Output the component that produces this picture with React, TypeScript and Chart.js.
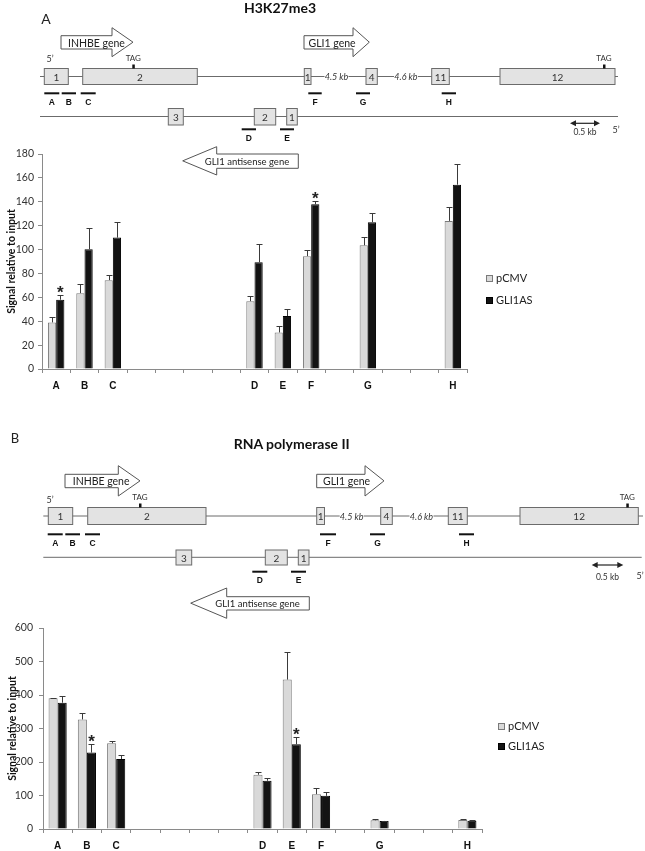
import React, { useEffect, useRef } from 'react';
import { Chart, registerables } from 'chart.js';

Chart.register(...registerables);

// ---------------- data ----------------
const categories = ['A', 'B', 'C', '', '', '', '', 'D', 'E', 'F', '', 'G', '', '', 'H'];
const seriesLabels = ['pCMV', 'GLI1AS'];
const N = null;

const h3k27me3PCMV = [39, 63.5, 74.4, N, N, N, N, 56.8, 30.6, 94.5, N, 103.6, N, N, 124];
const h3k27me3PCMVErr = [4.7, 7.5, 4.5, N, N, N, N, 4.5, 5, 5, N, 6.7, N, N, 11.5];
const h3k27me3GLI1AS = [58, 100.3, 110, N, N, N, N, 89.4, 44.3, 137.9, N, 122.9, N, N, 154.3];
const h3k27me3GLI1ASErr = [4, 17.6, 12.9, N, N, N, N, 15, 6, 2.5, N, 8, N, N, 17];
const h3k27me3Significant = ['A', 'F'];
const h3k27me3YTicks = [0, 20, 40, 60, 80, 100, 120, 140, 160, 180];

const pol2PCMV = [390, 327, 256, N, N, N, N, 162, 446, 104, N, 26, N, N, 27];
const pol2PCMVErr = [2, 18, 8, N, N, N, N, 9, 82, 18, N, 4, N, N, 1.5];
const pol2GLI1AS = [377, 228, 209, N, N, N, N, 144, 253, 99, N, 24, N, N, 25];
const pol2GLI1ASErr = [20, 26, 11, N, N, N, N, 8, 21, 11, N, 1, N, N, 2];
const pol2Significant = ['B', 'E'];
const pol2YTicks = [0, 100, 200, 300, 400, 500, 600];

const yTitle = 'Signal relative to input';

// ---------------- styles ----------------
const fills = ['#d9d9d9', '#131313'];
const borders = ['#7a7a7a', '#000000'];
const axisColor = '#8a8a8a';
const CAL = 'Lato, "Open Sans", sans-serif';
const ARIAL = '"Liberation Sans", Arial, sans-serif';

// ---------------- plugins ----------------
const errorBarPlugin = {
  id: 'errorBars',
  afterDatasetsDraw(chart: any) {
    const { ctx } = chart;
    const yScale = chart.scales.y;
    chart.data.datasets.forEach((ds: any, i: number) => {
      const meta = chart.getDatasetMeta(i);
      meta.data.forEach((bar: any, j: number) => {
        const v = ds.data[j];
        const e = ds.errors ? ds.errors[j] : null;
        if (v == null || e == null) return;
        const x = Math.round(bar.x) + 0.5;
        const yTop = Math.round(yScale.getPixelForValue(v + e)) + 0.5;
        ctx.save();
        ctx.strokeStyle = '#3a3a3a';
        ctx.lineWidth = 1;
        ctx.beginPath();
        ctx.moveTo(x, bar.y);
        ctx.lineTo(x, yTop);
        ctx.moveTo(x - 3, yTop);
        ctx.lineTo(x + 3, yTop);
        ctx.stroke();
        if (ds.significant && ds.significant[j]) {
          ctx.fillStyle = '#222';
          ctx.font = 'bold 17px ' + ARIAL;
          ctx.textAlign = 'center';
          ctx.textBaseline = 'alphabetic';
          ctx.fillText('*', bar.x, yTop + 2);
        }
        ctx.restore();
      });
    });
  },
};

const sideLegendPlugin = {
  id: 'sideLegend',
  afterDraw(chart: any, _args: any, opts: any) {
    const { ctx } = chart;
    chart.data.datasets.forEach((ds: any, i: number) => {
      const x = opts.x;
      const y = opts.y + i * opts.gap;
      ctx.save();
      ctx.fillStyle = ds.backgroundColor;
      ctx.fillRect(x, Math.round(y - 3.5), 7, 7);
      ctx.strokeStyle = ds.borderColor;
      ctx.lineWidth = 1;
      ctx.strokeRect(x + 0.5, Math.round(y - 3.5) + 0.5, 6, 6);
      ctx.fillStyle = '#222';
      ctx.font = '11px ' + CAL;
      ctx.textAlign = 'left';
      ctx.textBaseline = 'middle';
      ctx.fillText(ds.label, x + 10, y + 0.5);
      ctx.restore();
    });
  },
};

type PanelProps = {
  top: number;
  height: number;
  padTop: number;
  padRight: number;
  yWidth: number;
  xHeight: number;
  yTicks: number[];
  pcmv: (number | null)[];
  pcmvErr: (number | null)[];
  gli: (number | null)[];
  gliErr: (number | null)[];
  significant: string[];
  catPct: number;
  legend: { x: number; y: number; gap: number };
  titlePad: number;
  tickPad: number;
};

function BarPanel(p: PanelProps) {
  const ref = useRef<HTMLCanvasElement>(null);
  useEffect(() => {
    const sigFlags = categories.map((c) => c !== '' && p.significant.includes(c));
    const chart = new Chart(ref.current as HTMLCanvasElement, {
      type: 'bar',
      data: {
        labels: categories,
        datasets: [
          {
            label: seriesLabels[0],
            data: p.pcmv,
            backgroundColor: fills[0],
            borderColor: borders[0],
            borderWidth: 1,
            errors: p.pcmvErr,
          } as any,
          {
            label: seriesLabels[1],
            data: p.gli,
            backgroundColor: fills[1],
            borderColor: borders[1],
            borderWidth: 1,
            errors: p.gliErr,
            significant: sigFlags,
          } as any,
        ],
      },
      options: {
        responsive: false,
        animation: false,
        events: [],
        layout: { padding: { left: 0, right: p.padRight, top: p.padTop, bottom: 0 } },
        datasets: { bar: { categoryPercentage: p.catPct, barPercentage: 1 } },
        plugins: {
          legend: { display: false },
          tooltip: { enabled: false },
          sideLegend: p.legend,
        } as any,
        scales: {
          x: {
            grid: { offset: true, drawOnChartArea: false, drawTicks: true, tickLength: 4, color: axisColor },
            border: { color: axisColor },
            ticks: {
              autoSkip: false,
              maxRotation: 0,
              padding: 7,
              color: '#111',
              font: { family: ARIAL, weight: 'bold', size: 10 },
            },
            afterFit: (s: any) => {
              s.height = p.xHeight;
            },
          },
          y: {
            min: p.yTicks[0],
            max: p.yTicks[p.yTicks.length - 1],
            grid: { drawOnChartArea: false, drawTicks: true, tickLength: 4, color: axisColor },
            border: { color: axisColor },
            ticks: {
              stepSize: p.yTicks[1] - p.yTicks[0],
              padding: p.tickPad,
              color: '#333',
              font: { family: CAL, size: 10.5 },
            },
            title: {
              display: true,
              text: yTitle,
              color: '#111',
              font: { family: CAL, weight: 'bold', size: 10.5 },
              padding: { top: p.titlePad, bottom: 0 },
            },
            afterFit: (s: any) => {
              s.width = p.yWidth;
            },
          },
        } as any,
      },
      plugins: [errorBarPlugin, sideLegendPlugin],
    } as any);
    return () => chart.destroy();
  }, []);
  return (
    <canvas
      ref={ref}
      width={645}
      height={p.height}
      style={{ position: 'absolute', left: 0, top: p.top, width: 645, height: p.height }}
    />
  );
}

// ---------------- gene diagram ----------------
type Exon = [number, number, string];
type Primer = [number, number, string];
type DiagramCfg = {
  letter: [number, number, string, number];
  title: [number, number, string];
  arrows: { x0: number; xh: number; tip: number; b0: number; b1: number; h0: number; h1: number; text: string; tx: number; dir: 'r' | 'l' }[];
  five: [number, number][];
  lineY: number;
  lineX: [number, number];
  exonY: [number, number];
  exons: Exon[];
  kb: [number, string][];
  tags: number[];
  tagY: number;
  primerY: number;
  primerLabelY: number;
  primers: Primer[];
  asLineY: number;
  asLineX: [number, number];
  asExonY: [number, number];
  asExons: Exon[];
  asPrimerY: number;
  asPrimerLabelY: number;
  asPrimers: Primer[];
  scaleBar: [number, number, number, number];
};

const lineCol = '#6b6b6b';

function Diagram({ c }: { c: DiagramCfg }) {
  const els: any[] = [];
  let k = 0;
  const key = () => 'k' + k++;
  els.push(
    <text key={key()} x={c.letter[0]} y={c.letter[1]} fontFamily={CAL} fontSize={c.letter[3]} fill="#222" textAnchor="middle" dominantBaseline="central">
      {c.letter[2]}
    </text>
  );
  els.push(
    <text key={key()} x={c.title[0]} y={c.title[1]} fontFamily={CAL} fontWeight="bold" fontSize={14} fill="#111" textAnchor="middle" dominantBaseline="central">
      {c.title[2]}
    </text>
  );
  c.arrows.forEach((a) => {
    const mid = (a.h0 + a.h1) / 2;
    let pts = '';
    if (a.dir === 'r') {
      pts = `${a.x0},${a.b0} ${a.xh},${a.b0} ${a.xh},${a.h0} ${a.tip},${mid} ${a.xh},${a.h1} ${a.xh},${a.b1} ${a.x0},${a.b1}`;
    } else {
      pts = `${a.tip},${mid} ${a.xh},${a.h0} ${a.xh},${a.b0} ${a.x0},${a.b0} ${a.x0},${a.b1} ${a.xh},${a.b1} ${a.xh},${a.h1}`;
    }
    els.push(<polygon key={key()} points={pts} fill="#fff" stroke="#555" strokeWidth={1} />);
    els.push(
      <text key={key()} x={a.tx} y={mid + 0.5} fontFamily={CAL} fontSize={a.dir === 'l' ? 9.5 : 10.5} fill="#222" textAnchor={a.dir === 'l' ? 'middle' : 'start'} dominantBaseline="central">
        {a.text}
      </text>
    );
  });
  c.five.forEach(([x, y]) => {
    els.push(
      <text key={key()} x={x} y={y} fontFamily={CAL} fontSize={9} fill="#333" textAnchor="middle" dominantBaseline="central">
        5’
      </text>
    );
  });
  // main line
  els.push(<line key={key()} x1={c.lineX[0]} x2={c.lineX[1]} y1={c.lineY} y2={c.lineY} stroke={lineCol} strokeWidth={1} />);
  c.kb.forEach(([x, t]) => {
    els.push(<rect key={key()} x={x - 12} y={c.lineY - 5} width={24} height={10} fill="#fff" />);
    els.push(
      <text key={key()} x={x} y={c.lineY} fontFamily={CAL} fontStyle="italic" fontSize={9} fill="#333" textAnchor="middle" dominantBaseline="central">
        {t}
      </text>
    );
  });
  c.exons.forEach(([x0, x1, l]) => {
    els.push(<rect key={key()} x={x0} y={c.exonY[0]} width={x1 - x0} height={c.exonY[1] - c.exonY[0]} fill="#e3e3e3" stroke="#6b6b6b" strokeWidth={1} />);
    els.push(
      <text key={key()} x={(x0 + x1) / 2} y={(c.exonY[0] + c.exonY[1]) / 2} fontFamily={CAL} fontSize={10} fill="#333" textAnchor="middle" dominantBaseline="central">
        {l}
      </text>
    );
  });
  c.tags.forEach((x) => {
    els.push(<rect key={key()} x={x - 1} y={c.exonY[0] - 4} width={2.5} height={4} fill="#111" />);
    els.push(
      <text key={key()} x={x} y={c.tagY} fontFamily={CAL} fontSize={8} fill="#333" textAnchor="middle" dominantBaseline="central">
        TAG
      </text>
    );
  });
  const drawPrimers = (list: Primer[], y: number, ly: number) => {
    list.forEach(([x0, x1, l]) => {
      els.push(<rect key={key()} x={x0} y={y - 1} width={x1 - x0} height={2} fill="#111" />);
      els.push(
        <text key={key()} x={(x0 + x1) / 2} y={ly} fontFamily={ARIAL} fontWeight="bold" fontSize={8.5} fill="#111" textAnchor="middle" dominantBaseline="central">
          {l}
        </text>
      );
    });
  };
  drawPrimers(c.primers, c.primerY, c.primerLabelY);
  // antisense line
  els.push(<line key={key()} x1={c.asLineX[0]} x2={c.asLineX[1]} y1={c.asLineY} y2={c.asLineY} stroke={lineCol} strokeWidth={1} />);
  c.asExons.forEach(([x0, x1, l]) => {
    els.push(<rect key={key()} x={x0} y={c.asExonY[0]} width={x1 - x0} height={c.asExonY[1] - c.asExonY[0]} fill="#e3e3e3" stroke="#6b6b6b" strokeWidth={1} />);
    els.push(
      <text key={key()} x={(x0 + x1) / 2} y={(c.asExonY[0] + c.asExonY[1]) / 2} fontFamily={CAL} fontSize={10} fill="#333" textAnchor="middle" dominantBaseline="central">
        {l}
      </text>
    );
  });
  drawPrimers(c.asPrimers, c.asPrimerY, c.asPrimerLabelY);
  // scale bar
  const [sx0, sx1, sy, ty] = c.scaleBar;
  els.push(<line key={key()} x1={sx0 + 4} x2={sx1 - 4} y1={sy} y2={sy} stroke="#222" strokeWidth={1.2} />);
  els.push(<polygon key={key()} points={`${sx0},${sy} ${sx0 + 6},${sy - 3} ${sx0 + 6},${sy + 3}`} fill="#222" />);
  els.push(<polygon key={key()} points={`${sx1},${sy} ${sx1 - 6},${sy - 3} ${sx1 - 6},${sy + 3}`} fill="#222" />);
  els.push(
    <text key={key()} x={(sx0 + sx1) / 2} y={ty} fontFamily={CAL} fontSize={8.5} fill="#333" textAnchor="middle" dominantBaseline="central">
      0.5 kb
    </text>
  );
  return <g>{els}</g>;
}

const diagramA: DiagramCfg = {
  letter: [46, 18, 'A', 14],
  title: [280, 7, 'H3K27me3'],
  arrows: [
    { x0: 61, xh: 112, tip: 133, b0: 35.7, b1: 49, h0: 27.7, h1: 56.7, text: 'INHBE gene', tx: 68, dir: 'r' },
    { x0: 304, xh: 353, tip: 369.3, b0: 35.7, b1: 49, h0: 27.7, h1: 56.7, text: 'GLI1 gene', tx: 308.5, dir: 'r' },
    { x0: 298.3, xh: 216.7, tip: 182.7, b0: 154, b1: 168.3, h0: 146.7, h1: 175, text: 'GLI1 antisense gene', tx: 247, dir: 'l' },
  ],
  five: [[50, 58], [616, 129]],
  lineY: 76.5,
  lineX: [40, 618],
  exonY: [68.5, 84.5],
  exons: [
    [44.3, 68.3, '1'],
    [82.7, 197.3, '2'],
    [304.3, 311, '1'],
    [366, 377.3, '4'],
    [431.7, 449.3, '11'],
    [500, 615, '12'],
  ],
  kb: [[336.5, '4.5 kb'], [406, '4.6 kb']],
  tags: [133.3, 604],
  tagY: 57.5,
  primerY: 93.3,
  primerLabelY: 102,
  primers: [
    [44.3, 59.3, 'A'],
    [61.7, 76, 'B'],
    [80.7, 95.7, 'C'],
    [308.3, 321.7, 'F'],
    [356, 370, 'G'],
    [441.7, 456, 'H'],
  ],
  asLineY: 116.5,
  asLineX: [40, 618],
  asExonY: [108.5, 125],
  asExons: [
    [168.3, 183.3, '3'],
    [254.3, 275.7, '2'],
    [286.7, 297.3, '1'],
  ],
  asPrimerY: 129.3,
  asPrimerLabelY: 137.5,
  asPrimers: [
    [241.7, 256, 'D'],
    [280, 294, 'E'],
  ],
  scaleBar: [570, 600, 123.3, 131.5],
};

const diagramB: DiagramCfg = {
  letter: [15, 438, 'B', 13],
  title: [291.7, 443, 'RNA polymerase II'],
  arrows: [
    { x0: 65, xh: 118.3, tip: 140, b0: 474.3, b1: 487.7, h0: 465.7, h1: 496, text: 'INHBE gene', tx: 72.7, dir: 'r' },
    { x0: 316.7, xh: 365, tip: 384, b0: 474.3, b1: 487.7, h0: 465.7, h1: 496, text: 'GLI1 gene', tx: 323, dir: 'r' },
    { x0: 309.3, xh: 226.7, tip: 190.7, b0: 596.7, b1: 610, h0: 588, h1: 618.3, text: 'GLI1 antisense gene', tx: 257.5, dir: 'l' },
  ],
  five: [[50, 499], [640, 575]],
  lineY: 516,
  lineX: [43.3, 643],
  exonY: [507.5, 524.5],
  exons: [
    [48.3, 72.7, '1'],
    [87.7, 206, '2'],
    [316.7, 324.5, '1'],
    [380.7, 392.3, '4'],
    [448.3, 467.3, '11'],
    [520, 638.3, '12'],
  ],
  kb: [[351.7, '4.5 kb'], [421.5, '4.6 kb']],
  tags: [140, 627.3],
  tagY: 497,
  primerY: 534.3,
  primerLabelY: 542.5,
  primers: [
    [47.7, 62.7, 'A'],
    [65.3, 80, 'B'],
    [85, 100, 'C'],
    [320, 336, 'F'],
    [370, 385, 'G'],
    [459, 474, 'H'],
  ],
  asLineY: 557.3,
  asLineX: [43.3, 641.7],
  asExonY: [550, 565],
  asExons: [
    [176, 191.7, '3'],
    [265.3, 287.3, '2'],
    [298.3, 309, '1'],
  ],
  asPrimerY: 571.7,
  asPrimerLabelY: 579.5,
  asPrimers: [
    [252.3, 267.3, 'D'],
    [291, 306, 'E'],
  ],
  scaleBar: [591.7, 623.3, 565, 576.7],
};

export default function App() {
  return (
    <div style={{ position: 'absolute', left: 0, top: 0, width: 645, height: 851, background: '#fff', overflow: 'hidden' }}>
      <BarPanel
        top={140}
        height={265}
        padTop={14}
        padRight={178}
        yWidth={42}
        xHeight={36}
        yTicks={h3k27me3YTicks}
        pcmv={h3k27me3PCMV}
        pcmvErr={h3k27me3PCMVErr}
        gli={h3k27me3GLI1AS}
        gliErr={h3k27me3GLI1ASErr}
        significant={h3k27me3Significant}
        catPct={0.58}
        legend={{ x: 486, y: 138.3, gap: 21.7 }}
        titlePad={5}
        tickPad={4}
      />
      <BarPanel
        top={600}
        height={251}
        padTop={28}
        padRight={163}
        yWidth={43}
        xHeight={22}
        yTicks={pol2YTicks}
        pcmv={pol2PCMV}
        pcmvErr={pol2PCMVErr}
        gli={pol2GLI1AS}
        gliErr={pol2GLI1ASErr}
        significant={pol2Significant}
        catPct={0.62}
        legend={{ x: 498, y: 126.3, gap: 19.7 }}
        titlePad={6}
        tickPad={6}
      />
      <svg width={645} height={851} style={{ position: 'absolute', left: 0, top: 0, pointerEvents: 'none' }}>
        <Diagram c={diagramA} />
        <Diagram c={diagramB} />
      </svg>
    </div>
  );
}
